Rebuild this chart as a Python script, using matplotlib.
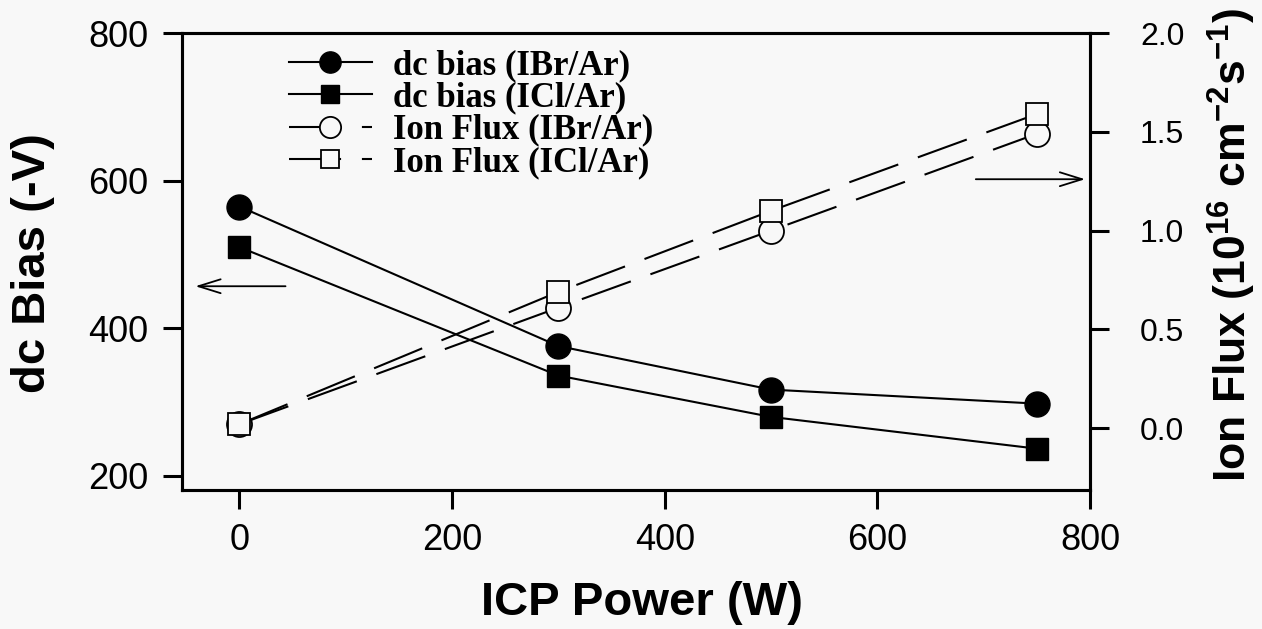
import matplotlib
matplotlib.use('Agg')
import matplotlib.pyplot as plt

# data
power = [0, 300, 500, 750]
bias_ibr = [565, 376, 317, 298]
bias_icl = [510, 336, 280, 237]
flux_ibr = [0.02, 0.61, 1.0, 1.49]
flux_icl = [0.02, 0.69, 1.1, 1.59]

bg = '#f8f8f8'
plt.rcParams['font.family'] = ['Liberation Sans', 'DejaVu Sans']
plt.rcParams['mathtext.fontset'] = 'custom'
plt.rcParams['mathtext.rm'] = 'Liberation Sans:bold'
plt.rcParams['mathtext.bf'] = 'Liberation Sans:bold'
plt.rcParams['mathtext.default'] = 'rm'

fig = plt.figure(figsize=(12.62, 6.29), dpi=100, facecolor=bg)
ax = fig.add_axes([0.1442, 0.221, 0.7195, 0.7265], facecolor=bg)
ax2 = ax.twinx()

lw = 1.5
dash = (25, 10)
l1, = ax.plot(power, bias_ibr, '-', color='black', lw=lw, marker='o', ms=18, mfc='black', mec='black')
l2, = ax.plot(power, bias_icl, '-', color='black', lw=lw, marker='s', ms=16, mfc='black', mec='black')
l3, = ax2.plot(power, flux_ibr, color='black', lw=lw, dashes=dash, marker='o', ms=18, mfc=bg, mec='black', mew=1.3)
l4, = ax2.plot(power, flux_icl, color='black', lw=lw, dashes=dash, marker='s', ms=16, mfc=bg, mec='black', mew=1.3)

ax.set_xlim(-54, 800)
ax.set_ylim(181, 800)
ax2.set_ylim(-0.313, 2.0)
ax.set_xticks([0, 200, 400, 600, 800])
ax.set_yticks([200, 400, 600, 800])
ax2.set_yticks([0.0, 0.5, 1.0, 1.5, 2.0])
ax2.set_yticklabels(['0.0', '0.5', '1.0', '1.5', '2.0'])

for a in (ax, ax2):
    for s in a.spines.values():
        s.set_linewidth(2.2)
ax.tick_params(axis='both', direction='out', length=14, width=2.2, labelsize=26, pad=10)
ax2.tick_params(axis='y', direction='out', length=14, width=2.2, labelsize=23, pad=22)

ax.set_xlabel('ICP Power (W)', fontsize=34, fontweight='bold', va='center')
ax.xaxis.set_label_coords(0.507, -0.247)
ax.set_ylabel('dc Bias (-V)', fontsize=34, fontweight='bold', va='center')
ax.yaxis.set_label_coords(-0.164, 0.497)
ax2.set_ylabel('Ion Flux (10$^{16}$ cm$^{-2}$s$^{-1}$)', fontsize=32, fontweight='bold',
               rotation=90, va='center')
ax2.yaxis.set_label_coords(1.156, 0.536)

# arrows pointing to each axis
ax.annotate('', xy=(-44, 457), xytext=(46, 457),
            arrowprops=dict(arrowstyle='->,head_length=1.6,head_width=0.5', color='black', lw=1.3))
ax2.annotate('', xy=(798, 1.26), xytext=(690, 1.26),
             arrowprops=dict(arrowstyle='->,head_length=1.6,head_width=0.5', color='black', lw=1.3))

ax2.legend([l1, l2, l3, l4],
           ['dc bias (IBr/Ar)', 'dc bias (ICl/Ar)', 'Ion Flux (IBr/Ar)', 'Ion Flux (ICl/Ar)'],
           loc='upper left', bbox_to_anchor=(0.083, 1.033), frameon=False,
           prop={'family': 'Liberation Serif', 'weight': 'bold', 'size': 25},
           handlelength=2.4, handletextpad=0.6, labelspacing=-0.02, markerscale=0.85)

fig.savefig('out.png', dpi=100, facecolor=bg)
